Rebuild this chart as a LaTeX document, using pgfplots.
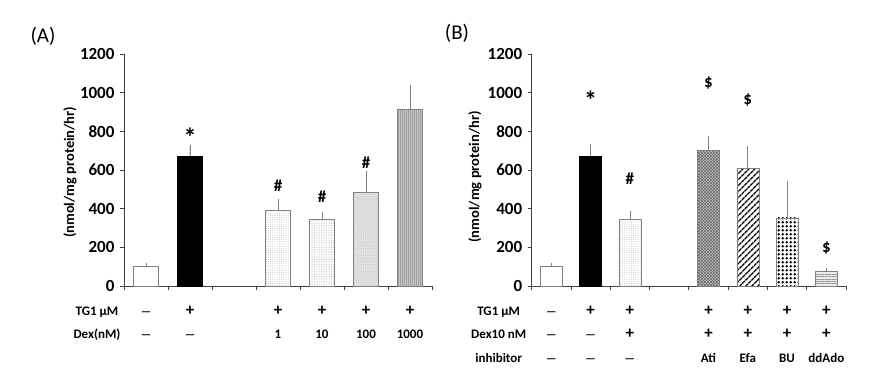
\documentclass[border=0pt]{standalone}
\usepackage{pgfplots}
\pgfplotsset{compat=1.18}
\usetikzlibrary{patterns,patterns.meta}
\usepackage{fontspec}
\setmainfont{Carlito}

% big black dots for the BU bar
\pgfdeclarepatternformonly{bigdots}{\pgfpointorigin}{\pgfpoint{3.7pt}{3.7pt}}{\pgfpoint{3.7pt}{3.7pt}}{%
  \pgfpathcircle{\pgfpoint{1.85pt}{1.85pt}}{1.5pt}\pgfusepath{fill}}

\newcommand\rowf{\bfseries\fontsize{13}{23.5}\selectfont}
\newcommand\rr[2]{\begin{tabular}[t]{@{}c@{}}#1\\#2\end{tabular}}
\newcommand\rrr[3]{\begin{tabular}[t]{@{}c@{}}#1\\#2\\#3\end{tabular}}
\newcommand\mn{{\fontsize{11.5}{11.5}\selectfont —}}
\newcommand\pl{{\fontsize{17}{17}\selectfont +}}

\pgfplotsset{
  panel/.style={
    scale only axis, height=232pt,
    ymin=0, ymax=1200, ytick={0,200,...,1200},
    axis lines*=left,
    axis line style={black!75, line width=0.9pt},
    clip=false, ybar, bar shift=0pt,
    /pgf/number format/1000 sep={},
    /pgf/number format/assume math mode=true,
    yticklabel style={font=\bfseries\fontsize{17}{17}\selectfont, xshift=-2pt},
    tick style={black!75, line width=0.8pt},
    major tick length=4pt, tick align=outside,
    xticklabels={},
    extra x tick style={major tick length=0pt,
      xticklabel style={font=\rowf, anchor=base, yshift=-29.5pt}},
    error bars/y dir=plus, error bars/y explicit,
    error bars/error bar style={draw=gray, line width=0.6pt, solid},
    error bars/error mark options={draw=gray, mark size=1.6pt, line width=0.6pt},
  },
}
\tikzset{
  ann/.style={font=\bfseries\fontsize{17}{17}\selectfont},
  star/.style={font=\bfseries\fontsize{26}{26}\selectfont},
  ylab/.style={rotate=90, font=\bfseries\fontsize{14.5}{14.5}\selectfont},
}

\begin{document}
\begin{tikzpicture}
\useasboundingbox (0,0) rectangle (889pt,387pt);
\node[font=\fontsize{21}{21}\selectfont] at (43pt,351pt) {(A)};
\node[font=\fontsize{21}{21}\selectfont] at (457pt,354pt) {(B)};

% ---- panel A
\begin{axis}[panel, at={(124pt,101pt)}, anchor=south west, width=308pt,
  xmin=-0.5, xmax=6.5, bar width=25pt,
  xtick={-0.5,0.5,...,6.5},
  extra x ticks={0,1,3,4,5,6},
  extra x tick labels={\rr{\mn}{\mn},\rr{\pl}{\mn},\rr{\pl}{1},\rr{\pl}{10},\rr{\pl}{100},\rr{\pl}{1000}},
]
\addplot[draw=gray, fill=white] coordinates {(0,100) +- (0,10)};
\addplot[draw=black, fill=black] coordinates {(1,670) +- (0,52)};
\addplot[draw=gray, pattern={Dots[distance=2.2pt,radius=0.4pt]}, pattern color=gray!70] coordinates {(3,390) +- (0,50)};
\addplot[draw=gray, pattern={Dots[distance=1.7pt,radius=0.35pt]}, pattern color=gray!70] coordinates {(4,345) +- (0,30)};
\addplot[draw=gray, fill=gray!22, postaction={pattern={Dots[distance=1.8pt,radius=0.35pt]}, pattern color=gray!60}] coordinates {(5,485) +- (0,104)};
\addplot[draw=gray, fill=gray!45, postaction={pattern={Lines[angle=90,distance=2pt,line width=0.6pt]}, pattern color=gray!75}] coordinates {(6,915) +- (0,115)};
\node[star] at (axis cs:1,770) {*};
\node[ann] at (axis cs:3,519) {\#};
\node[ann] at (axis cs:4,462) {\#};
\node[ann] at (axis cs:5,638) {\#};
\node[ylab] at ([xshift=-54pt]rel axis cs:0,0.49) {(nmol/mg protein/hr)};
\node[font=\rowf, anchor=base] at ([xshift=-27pt,yshift=-29.5pt]rel axis cs:0,0) {\rr{TG1 µM}{Dex(nM)}};
\end{axis}

% ---- panel B
\begin{axis}[panel, at={(531.7pt,101pt)}, anchor=south west, width=314.3pt,
  xmin=-0.5, xmax=7.5, bar width=22pt,
  xtick={-0.5,0.5,...,7.5},
  extra x ticks={0,1,2,4,5,6,7},
  extra x tick labels={\rrr{\mn}{\mn}{\mn},\rrr{\pl}{\mn}{\mn},\rrr{\pl}{\pl}{\mn},\rrr{\pl}{\pl}{Ati},\rrr{\pl}{\pl}{Efa},\rrr{\pl}{\pl}{BU},\rrr{\pl}{\pl}{ddAdo}},
]
\addplot[draw=gray, fill=white] coordinates {(0,100) +- (0,10)};
\addplot[draw=black, fill=black] coordinates {(1,670) +- (0,55)};
\addplot[draw=gray, pattern={Dots[distance=2.2pt,radius=0.4pt]}, pattern color=gray!70] coordinates {(2,347) +- (0,32)};
\addplot[draw=gray, fill=gray!55, postaction={pattern=crosshatch, pattern color=gray!85!black}] coordinates {(4,700) +- (0,66)};
\addplot[draw=gray, pattern={Lines[angle=45,distance=4pt,line width=1.5pt]}, pattern color=black] coordinates {(5,608) +- (0,107)};
\addplot[draw=gray, fill=white, postaction={pattern=bigdots, pattern color=black}] coordinates {(6,353) +- (0,181)};
\addplot[draw=gray, fill=gray!15, postaction={pattern={Lines[angle=0,distance=2.4pt,line width=0.6pt]}, pattern color=gray!80}] coordinates {(7,74) +- (0,12)};
\node[star] at (axis cs:1,960) {*};
\node[ann] at (axis cs:2,553) {\#};
\node[ann] at (axis cs:4,1048) {\$};
\node[ann] at (axis cs:5,962) {\$};
\node[ann] at (axis cs:7,198) {\$};
\node[ylab] at ([xshift=-56.7pt]rel axis cs:0,0.47) {(nmol/mg protein/hr)};
\node[font=\rowf, anchor=base] at ([xshift=-33pt,yshift=-29.5pt]rel axis cs:0,0) {\rrr{TG1 µM}{Dex10 nM}{inhibitor}};
\end{axis}
\end{tikzpicture}
\end{document}
